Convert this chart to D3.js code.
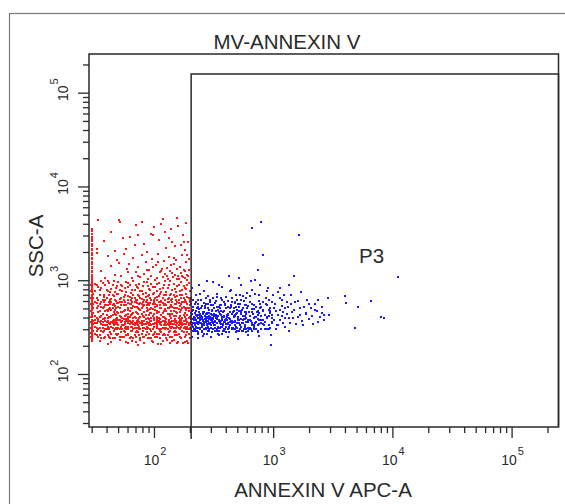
<!DOCTYPE html>
<html><head><meta charset="utf-8">
<script src="https://cdn.jsdelivr.net/npm/d3@7"></script>
<style>html,body{margin:0;padding:0;background:#fff;}svg{display:block;font-family:"Liberation Sans",Arial,Helvetica,sans-serif;}</style>
</head><body><svg id="chart" width="565" height="504"></svg>
<script>
const title = "MV-ANNEXIN V";
const xLabel = "ANNEXIN V APC-A";
const yLabel = "SSC-A";
const gateName = "P3";
const xDomain = [28.5, 247500];
const yDomain = [27.2, 258600];
const gateXMin = 205;
const gateYMax = 158200;
const xMajorExponents = [2, 3, 4, 5];
const yMajorExponents = [2, 3, 4, 5];

// events clamped at the low edge of the ANNEXIN V axis (x, SSC)
const redEdgeEvents = [[30,3480],[30,3310],[30,3090],[30,2920],[30,2740],[30,2610],[30,2440],[30,2330],[30,2170],[30,2090],[30,1950],[30,1870],[30,1740],[30,1670],[30,1560],[30,1500],[30,1400],[30,1350],[30,1260],[30,1210],[30,1130],[30,1090],[30,1020],[30,990],[30,930],[30,895],[30,845],[30,815],[30,770],[30,745],[30,700],[30,680],[30,640],[30,620],[30,585],[30,570],[30,535],[30,520],[30,490],[30,480],[30,450],[30,440],[30,415],[30,405],[30,380],[30,372],[30,352],[30,343],[30,325],[30,318],[30,300],[30,292],[30,278],[30,272],[30,258],[30,251],[30,240],[30,233],[30,223],[29.5,560],[29.5,470],[29.5,410],[29.5,360],[29.5,310],[29.5,275],[29.5,245],[29.5,650],[29.5,760],[29.5,880]];

// red population (outside gate P3)
const redEvents = [
[34,4400],[52,4200],[71,3900],[118,4500],[160,3800],[186,4100],[44,3300],[95,3100],[140,3500],[63,2900],[176,3000],[110,2700],[38,2600],[82,2450],[150,2300],[125,2200],[58,2150],[192,2550],[101,3650],[47,2050],[133,2800],[168,2400],[88,2000],[69,2350],[181,2100],[51,4370],[79,4130],[114,3950],[155,4600],[55,2850],[74,3010],[99,3010],[123,3270],[141,2560],[178,2530],[33,2130],
[33,1950],[41,1800],[49,1650],[56,1900],[62,1500],[67,1720],[74,1400],[79,1850],[85,1550],[91,1300],[97,1680],[104,1450],[109,1900],[115,1250],[121,1600],[128,1350],[134,1780],[141,1200],[147,1500],[153,1650],[159,1100],[166,1400],[172,1850],[178,1300],[185,1550],[191,1150],[197,1700],[36,1250],[44,1420],[53,1100],[59,1320],[65,1050],[71,1230],[77,1080],[83,1160],[89,1020],[94,1120],[99,1380],[106,1060],[112,1210],[118,1090],[124,1170],[131,1030],[137,1260],[144,1080],[150,1140],[157,1320],[163,1040],[169,1190],[175,1070],[182,1240],[188,1010],[194,1110],[39,1060],[47,1130],[61,1210],[73,1110],[87,1270],[102,1010],[117,1330],[129,1100],[139,1440],[155,1040],[171,1120],[183,1060],[196,1290],[51,1520],[108,1560],[148,1730],[189,1880],
[31,720],[32,910],[33,640],[34,850],[35,780],[36,990],[37,610],[38,700],[39,880],[40,650],[41,760],[42,930],[43,620],[44,810],[45,690],[46,970],[47,740],[48,600],[49,860],[50,710],[52,630],[53,900],[54,770],[56,660],[57,820],[58,950],[60,680],[61,610],[63,890],[64,730],[66,640],[67,980],[69,790],[70,620],[72,840],[74,700],[75,920],[77,650],[79,760],[81,870],[83,610],[85,730],[87,960],[89,680],[91,800],[93,640],[95,910],[98,720],[100,620],[102,850],[105,770],[107,660],[110,940],[112,710],[115,600],[118,830],[121,690],[124,990],[127,750],[130,630],[133,880],[136,700],[139,610],[143,790],[146,920],[150,670],[153,740],[157,860],[161,620],[165,700],[169,950],[173,780],[177,640],[181,830],[186,710],[190,900],[195,650],[199,760],
[31,650],[32,770],[33,880],[34,610],[35,700],[36,830],[37,940],[38,660],[39,620],[40,790],[41,980],[42,690],[43,750],[44,630],[45,900],[46,680],[47,610],[48,820],[49,720],[50,960],[52,780],[53,640],[54,860],[56,610],[57,700],[58,740],[60,850],[61,930],[63,660],[64,620],[66,780],[67,700],[69,640],[70,900],[72,610],[74,820],[75,680],[77,760],[79,630],[81,710],[83,950],[85,660],[87,620],[89,870],[91,690],[93,780],[95,610],[98,850],[100,730],[102,650],[105,620],[107,910],[110,680],[112,800],[115,740],[118,640],[121,880],[124,610],[127,690],[130,820],[133,650],[136,970],[139,720],[143,630],[146,700],[150,810],[153,610],[157,680],[161,900],[165,760],[169,640],[173,690],[177,870],[181,610],[186,800],[190,670],[195,940],[199,620],
[31,560],[32,420],[33,510],[34,390],[35,470],[36,590],[37,440],[38,520],[39,400],[40,480],[41,550],[42,410],[43,500],[44,580],[45,430],[46,460],[47,530],[48,390],[49,570],[50,450],[52,500],[53,410],[54,590],[56,470],[57,420],[58,540],[60,390],[61,480],[63,560],[64,430],[66,510],[67,400],[69,580],[70,460],[72,520],[74,380],[75,490],[77,570],[79,440],[81,530],[83,410],[85,590],[87,470],[89,400],[91,550],[93,450],[95,510],[98,420],[100,580],[102,480],[105,390],[107,540],[110,460],[112,500],[115,430],[118,570],[121,410],[124,490],[127,550],[130,440],[133,380],[136,520],[139,470],[143,590],[146,420],[150,500],[153,560],[157,450],[161,400],[165,530],[169,480],[173,590],[177,430],[181,510],[186,390],[190,560],[195,470],[199,540],
[31,450],[32,580],[33,400],[34,530],[35,560],[36,420],[37,500],[38,390],[39,540],[40,430],[41,470],[42,590],[43,410],[44,480],[45,550],[46,380],[47,440],[48,510],[49,460],[50,570],[52,420],[53,540],[54,460],[56,390],[57,580],[58,430],[60,500],[61,410],[63,470],[64,560],[66,440],[67,530],[69,410],[70,590],[72,450],[74,500],[75,400],[77,480],[79,560],[81,420],[83,540],[85,390],[87,510],[89,570],[91,430],[93,490],[95,400],[98,560],[100,440],[102,520],[105,470],[107,410],[110,580],[112,390],[115,510],[118,450],[121,540],[124,400],[127,470],[130,590],[133,500],[136,420],[139,550],[143,440],[146,510],[150,390],[153,460],[157,580],[161,490],[165,420],[169,560],[173,400],[177,520],[181,450],[186,590],[190,430],[195,510],[199,410],
[31,500],[32,380],[33,570],[34,460],[35,410],[36,520],[37,390],[38,590],[39,470],[40,540],[41,400],[42,490],[43,560],[44,420],[45,510],[46,560],[47,480],[48,430],[49,400],[50,520],[52,590],[53,460],[54,400],[56,550],[57,480],[58,390],[60,570],[61,440],[63,410],[64,500],[66,590],[67,450],[69,520],[70,400],[72,570],[74,440],[75,560],[77,410],[79,500],[81,590],[83,460],[85,430],[87,540],[89,480],[91,390],[93,570],[95,450],[98,490],[100,400],[102,560],[105,530],[107,450],[110,400],[112,550],[115,580],[118,410],[121,470],[124,560],[127,390],[130,510],[133,580],[136,440],[139,400],[143,520],[146,470],[150,560],[153,420],[157,510],[161,570],[165,460],[169,390],[173,500],[177,590],[181,410],[186,480],[190,510],[195,400],[199,580],
[31,340],[32,270],[33,310],[34,250],[35,360],[36,290],[37,330],[38,240],[39,370],[40,300],[41,260],[42,350],[43,280],[44,320],[45,240],[46,370],[47,300],[48,340],[49,260],[50,310],[52,380],[53,280],[54,330],[56,250],[57,360],[58,300],[60,270],[61,350],[63,240],[64,320],[66,290],[67,370],[69,260],[70,340],[72,310],[74,280],[75,360],[77,240],[79,330],[81,290],[83,370],[85,260],[87,320],[89,350],[91,270],[93,300],[95,240],[98,340],[100,380],[102,280],[105,310],[107,250],[110,360],[112,290],[115,330],[118,260],[121,370],[124,300],[127,240],[130,340],[133,280],[136,320],[139,360],[143,250],[146,310],[150,290],[153,370],[157,260],[161,330],[165,300],[169,240],[173,350],[177,280],[181,320],[186,260],[190,360],[195,300],[199,340],
[31,290],[32,350],[33,260],[34,370],[35,310],[36,240],[37,280],[38,330],[39,300],[40,360],[41,320],[42,250],[43,340],[44,270],[45,370],[46,290],[47,240],[48,310],[49,350],[50,270],[52,300],[53,360],[54,250],[56,330],[57,280],[58,370],[60,320],[61,260],[63,340],[64,290],[66,360],[67,240],[69,310],[70,280],[72,370],[74,330],[75,260],[77,300],[79,350],[81,250],[83,310],[85,340],[87,280],[89,240],[91,330],[93,370],[95,290],[98,260],[100,320],[102,350],[105,270],[107,380],[110,300],[112,240],[115,360],[118,310],[121,270],[124,350],[127,330],[130,260],[133,370],[136,290],[139,250],[143,340],[146,280],[150,360],[153,310],[157,350],[161,270],[165,380],[169,320],[173,290],[177,370],[181,250],[186,340],[190,300],[195,270],[199,240],
[31,370],[32,320],[33,350],[34,300],[35,260],[36,340],[37,360],[38,290],[39,250],[40,330],[41,370],[42,300],[43,240],[44,360],[45,310],[46,330],[47,350],[48,270],[49,300],[50,380],[52,250],[53,320],[54,370],[56,290],[57,310],[58,260],[60,350],[61,300],[63,370],[64,250],[66,320],[67,300],[69,350],[70,250],[72,290],[74,360],[75,320],[77,350],[79,270],[81,340],[83,250],[85,300],[87,360],[89,310],[91,240],[93,340],[95,330],[98,300],[100,270],[102,250],[105,360],[107,320],[110,270],[112,340],[115,280],[118,370],[121,310],[124,260],[127,360],[130,300],[133,330],[136,250],[139,310],[143,370],[146,340],[150,260],[153,280],[157,320],[161,360],[165,250],[169,350],[173,330],[177,310],[181,370],[186,300],[190,280],[195,350],[199,310],
[33,290],[36,370],[39,330],[42,310],[45,350],[48,370],[50,330],[54,300],[57,340],[61,370],[64,350],[69,330],[72,350],[75,300],[79,370],[83,340],[87,300],[91,350],[95,370],[100,340],[105,330],[110,370],[115,300],[121,330],[127,310],[133,350],[139,340],[146,370],[153,330],[161,310],[169,370],[177,340],[186,370],[195,330],[37,310],[47,360],[58,320],[67,340],[81,310],[93,330],[107,350],[124,370],[143,320],[165,340],[190,320],
[35,225],[44,218],[52,228],[61,212],[70,222],[83,216],[96,226],[108,210],[120,224],[135,215],[148,229],[160,220],[174,213],[188,226],[41,210],[65,227],[99,220],[128,228],[155,212],[183,218],[115,207],[58,221],[143,223],[76,229],[194,214],[74,205]
];

// blue population (inside gate P3)
const blueEvents = [
[205,420],[212,610],[220,330],[228,500],[236,280],[245,710],[254,390],[263,460],[272,300],[282,560],[292,350],[303,440],[314,650],[325,290],[337,520],[349,380],[362,470],[375,270],[389,590],[403,340],[418,430],[433,760],[449,310],[465,500],[482,370],[500,620],[518,290],[537,450],[556,350],[576,540],[597,400],[619,310],[641,680],[664,460],[688,330],[713,520],[739,390],[766,600],[794,300],[823,470],[853,360],[884,540],[916,420],[949,310],[984,580],[1020,380],[1057,470],[1095,330],[1135,640],[1176,420],[1219,350],[1263,510],[1309,440],[1356,290],[1405,560],[1456,400],[1509,480],[1564,340],[1620,600],[1679,430],[1740,370],[1803,520],[1868,450],[1936,610],[2006,390],[2079,500],[2154,340],[2232,560],[2313,470],[2397,620],[2484,410],[2574,520],[2667,380],
[205,300],[212,480],[220,560],[228,360],[236,430],[245,310],[254,530],[263,270],[272,640],[282,400],[292,480],[303,330],[314,390],[325,570],[337,300],[349,460],[362,340],[375,620],[389,410],[403,280],[418,520],[433,360],[449,440],[465,300],[482,590],[500,350],[518,470],[537,320],[556,680],[576,390],[597,300],[619,530],[641,420],[664,290],[688,490],[713,360],[739,280],[766,450],[794,520],[823,340],[853,430],[884,300],[916,610],[949,450],[984,350],[1020,510],[1057,300],[1095,430],[1135,380],[1176,530],[1219,460],[1263,320],[1309,580],[1356,400],
[205,560],[212,350],[220,450],[228,290],[236,620],[245,400],[254,330],[263,570],[272,440],[282,310],[292,390],[303,540],[314,300],[325,420],[337,660],[349,310],[362,550],[375,380],[389,290],[403,500],[418,340],[433,460],[449,580],[465,360],[482,300],[500,450],[518,380],[537,610],[556,290],[576,460],[597,550],[619,380],[641,310],[664,560],[688,400],[713,300],[739,470],[766,340],[794,420],[823,580],[853,300],[884,400],[916,330],[949,500],[984,430],
[205,360],[212,290],[220,400],[228,430],[236,340],[245,380],[254,290],[263,350],[272,380],[282,320],[292,290],[303,380],[314,350],[325,330],[337,400],[349,290],[362,370],[375,320],[389,360],[403,390],[418,300],[433,330],[449,370],[465,420],[482,330],[500,290],[518,350],[537,390],[556,420],[576,330],[597,360],[619,290],[641,380],[664,350],[688,300],[713,410],[739,330],[766,380],[794,350],
[207,470],[215,380],[224,320],[232,520],[240,460],[250,420],[259,370],[268,500],[277,340],[287,450],[297,410],[308,480],[320,360],[331,470],[343,420],[355,500],[368,430],[382,330],[396,540],[410,380],[425,400],[441,520],[457,460],[474,430],[491,520],[509,410],[527,560],[546,480],[566,300],[587,440],
[210,820],[225,700],[240,900],[262,760],[285,680],[310,950],[340,720],[370,840],[400,660],[445,780],[490,700],[540,880],[600,730],[660,790],[760,690],[880,760],[1000,700],[1150,820],[1400,690],[1700,750],[208,250],[233,240],[260,255],[300,245],[350,260],[420,248],[510,236],[620,262],[760,252],[950,258],
[203,450],[209,330],[214,520],[218,380],[222,290],[226,470],[231,350],[235,560],[239,310],[243,420],[248,500],[252,340],[257,440],[261,300],[266,390],[270,530],[275,360],[279,450],[284,290],[289,410],[294,580],[299,330],[304,470],[309,380],[315,300],[321,510],[327,360],[333,430],[339,290],[345,480],[352,370],[358,540],[365,320],[372,410],[379,460],[386,300],[393,380],[401,500],[409,340],[417,440],[425,310],[434,390],[443,540],[452,300],[461,460],[470,360],[480,420],[490,320],[500,480],[511,380],[522,300],[533,440],[545,350],[557,510],[569,390],[582,320],[595,460],[609,360],[623,300],[638,420],[653,370],[669,490],[685,320],[702,410],
[204,640],[211,390],[217,300],[223,580],[229,420],[234,270],[238,490],[244,350],[249,610],[255,280],[260,460],[265,330],[271,560],[276,410],[281,270],[286,500],[291,340],[296,620],[302,400],[307,280],[313,540],[318,420],[324,330],[330,600],[336,390],[342,270],[348,520],[355,350],[362,650],[369,400],[376,290],[384,470],[391,560],[399,320],[407,430],[415,600],[424,280],[432,500],[442,370],[451,640],[460,310],[470,470],[480,570],[491,280],[502,400],[514,520],[526,330],[538,470],[551,290],[564,600],[578,420],[592,280],[607,500],[622,380],[638,580],[655,300],[672,440],[690,540],[709,350],[728,460],[748,290],[769,510],[791,380],[814,480],[838,330],[863,560],[889,410],[916,300],[944,470],[973,360],
[206,390],[210,440],[213,320],[216,410],[219,350],[221,300],[225,430],[227,380],[230,310],[233,400],[237,360],[241,440],[242,300],[246,350],[251,410],[253,320],[256,380],[258,440],[262,340],[264,300],[267,420],[269,360],[273,310],[274,400],[278,330],[280,440],[283,370],[287,300],[290,420],[293,350],[297,390],[301,310],[305,430],[306,360],[311,400],[316,330],[319,440],[322,370],[328,310],[332,400],[335,350],[341,420],[346,320],[350,380],[356,440],[361,310],[366,370],[373,400],[378,340],[385,420],[392,360],[398,300],[406,410],[414,350],[421,430],[430,320],[438,390],[448,350],[456,300],[467,410],[476,360],[487,440],[496,310],
[505,560],[530,700],[560,380],[590,640],[625,460],[660,330],[700,720],[740,430],[780,560],[820,380],[870,650],[920,480],[970,400],[1030,560],[1080,330],[1130,480],[1190,620],[1250,400],[1320,520],[1380,350],[1450,460],[1520,580],[1600,410],[1690,500],[1780,330],[1880,440],[1990,560],[2100,420],[2230,480],[2380,360],[2550,450],[1100,750],[1240,700],[900,820],[780,880],[650,980],[520,1050],[430,1120],[350,900],[280,980],[1350,880],
[664,3580],[794,4130],[826,1850],[746,1270],[708,1000],[1650,3010],[1496,1100],[11150,1070],[3980,686],[4070,577],[5110,523],[6680,606],[8100,408],[8570,398],[4820,311],[2870,653],[2660,429],[2920,429],[962,205]
];

const plot = {left: 89, right: 558.5, top: 54, bottom: 427};
const svg = d3.select("#chart");
const x = d3.scaleLog().domain(xDomain).range([plot.left, plot.right]).clamp(true);
const y = d3.scaleLog().domain(yDomain).range([plot.bottom, plot.top]).clamp(true);
const ink = "#2a2a2a";

// outer panel frame
svg.append("rect").attr("x", 9.5).attr("y", 13.5).attr("width", 700).attr("height", 700)
  .attr("fill", "none").attr("stroke", "#7a7a7a").attr("stroke-width", 1.2);

// title
svg.append("text").attr("x", 287).attr("y", 49).attr("text-anchor", "middle")
  .attr("font-size", 20.5).attr("fill", ink).text(title);

// events
const ev = svg.append("g").attr("shape-rendering", "crispEdges");
function drawEvents(data, color, cls) {
  ev.selectAll("rect." + cls).data(data).join("rect").attr("class", cls)
    .attr("x", d => x(d[0]) - 1).attr("y", d => y(d[1]) - 1)
    .attr("width", 2).attr("height", 2).attr("fill", color);
}
drawEvents(redEdgeEvents, "#ff1a1a", "re");
drawEvents(redEvents, "#ff1a1a", "r");
drawEvents(blueEvents, "#1a1aff", "b");

// ticks
function logTicks(domain) {
  const t = [];
  for (let e = 1; e <= 5; e++) for (let m = 1; m <= 9; m++) {
    const v = m * Math.pow(10, e);
    if (v >= domain[0] && v <= domain[1]) t.push(v);
  }
  return t;
}
const isMajor = d => Math.abs(Math.log10(d) - Math.round(Math.log10(d))) < 1e-9;

const gx = svg.append("g").attr("transform", `translate(0,${plot.bottom})`)
  .call(d3.axisBottom(x).tickValues(logTicks(xDomain)).tickSize(6).tickSizeOuter(0).tickFormat(""));
gx.select(".domain").remove();
gx.selectAll(".tick line").attr("stroke", ink).attr("stroke-width", 1.3).attr("y2", d => isMajor(d) ? 11 : 6);

const gy = svg.append("g").attr("transform", `translate(${plot.left},0)`)
  .call(d3.axisLeft(y).tickValues(logTicks(yDomain)).tickSize(6).tickSizeOuter(0).tickFormat(""));
gy.select(".domain").remove();
gy.selectAll(".tick line").attr("stroke", ink).attr("stroke-width", 1.3).attr("x2", d => isMajor(d) ? -11 : -6);

// tick labels 10^n
xMajorExponents.forEach(e => {
  const t = svg.append("text").attr("x", x(Math.pow(10, e)) + 1).attr("y", 465)
    .attr("text-anchor", "middle").attr("font-size", 14).attr("fill", ink);
  t.append("tspan").text("10");
  t.append("tspan").attr("font-size", 11).attr("dy", -10).attr("dx", 1).text(e);
});
yMajorExponents.forEach(e => {
  const t = svg.append("text")
    .attr("transform", `translate(68,${y(Math.pow(10, e)) - 3}) rotate(-90)`)
    .attr("text-anchor", "middle").attr("font-size", 14).attr("fill", ink);
  t.append("tspan").text("10");
  t.append("tspan").attr("font-size", 11).attr("dy", -10).attr("dx", 1).text(e);
});

// plot frame
svg.append("rect").attr("x", plot.left).attr("y", plot.top)
  .attr("width", plot.right - plot.left).attr("height", plot.bottom - plot.top)
  .attr("fill", "none").attr("stroke", ink).attr("stroke-width", 1.5);

// gate P3
const gx0 = x(gateXMin), gy0 = y(gateYMax);
svg.append("path")
  .attr("d", `M${gx0},${plot.bottom + 12}V${gy0}H${plot.right}V${plot.bottom}`)
  .attr("fill", "none").attr("stroke", ink).attr("stroke-width", 1.5);
svg.append("text").attr("x", 359).attr("y", 263).attr("font-size", 20.5).attr("fill", ink).text(gateName);

// axis titles
svg.append("text").attr("x", 323).attr("y", 497).attr("text-anchor", "middle")
  .attr("font-size", 20.5).attr("fill", ink).text(xLabel);
svg.append("text").attr("transform", "translate(43,246) rotate(-90)").attr("text-anchor", "middle")
  .attr("font-size", 20.5).attr("fill", ink).text(yLabel);
</script></body></html>
